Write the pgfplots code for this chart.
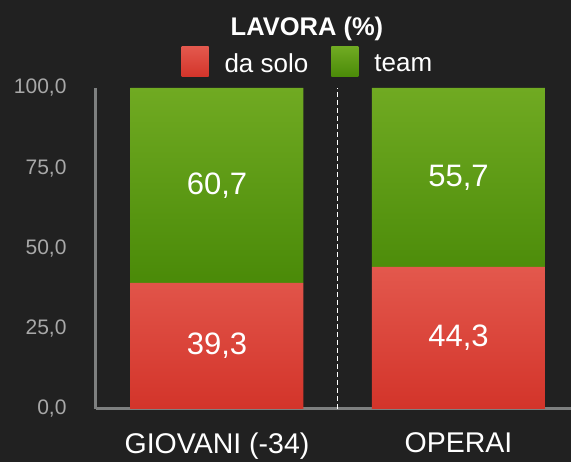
\documentclass[border=0pt]{standalone}
\usepackage{pgfplots}
\pgfplotsset{compat=1.18}
\usepackage{fontspec}
\setmainfont{Liberation Sans}
\definecolor{bg}{HTML}{212121}
\definecolor{axgray}{HTML}{7E8080}
\definecolor{ticklab}{HTML}{A8A8A8}
\definecolor{redtop}{HTML}{E3584D}
\definecolor{redbot}{HTML}{D3342A}
\definecolor{greentop}{HTML}{70AA22}
\definecolor{greenbot}{HTML}{4A8A08}
\begin{document}
\begin{tikzpicture}[x=1pt,y=1pt]
\fill[bg] (0,0) rectangle (571,462);
\begin{axis}[
  at={(96pt,53pt)}, anchor=south west,
  scale only axis, width=475pt, height=321pt,
  xmin=-0.501, xmax=1.466, ymin=0, ymax=100,
  ybar stacked, bar width=173pt,
  axis x line*=bottom, axis y line*=left,
  axis line style={draw=axgray, line width=3pt, -},
  xtick={0,1}, xticklabels={GIOVANI (-34), OPERAI},
  xticklabel style={font=\fontsize{28.5}{32}\selectfont, text=white, yshift=-20pt},
  ytick={0,25,50,75,100},
  yticklabel style={font=\fontsize{21}{24}\selectfont, text=ticklab, xshift=-26pt},
  yticklabel={\pgfmathprintnumber[fixed,fixed zerofill,precision=1,use comma]{\tick}},
  /pgf/number format/assume math mode=true,
  major tick length=0pt,
  clip=false,
  legend style={at={(0.446,1.081)}, anchor=center, draw=none, fill=none,
    text=white, font=\fontsize{26}{30}\selectfont, legend columns=2,
    /tikz/every odd column/.append style={column sep=14pt},
    /tikz/every even column/.append style={column sep=21pt}},
  legend image code/.code={\path[#1] (0pt,-13pt) rectangle (27pt,17pt);},
  nodes near coords={\pgfmathprintnumber[fixed,precision=1,use comma]{\pgfplotspointmeta}},
  nodes near coords style={text=white, font=\fontsize{31}{34}\selectfont, anchor=center},
  point meta=explicit,
]
\addplot[draw=none, top color=redtop, bottom color=redbot] coordinates {(0,39.3) [39.3] (1,44.3) [44.3]};
\addlegendentry{da solo}
\addplot[draw=none, top color=greentop, bottom color=greenbot] coordinates {(0,60.7) [60.7] (1,55.7) [55.7]};
\addlegendentry{team}
\draw[white, line width=1pt, dash pattern=on 5pt off 3pt] (axis cs:0.501,0) -- (axis cs:0.501,100);
\end{axis}
\node[text=white, font=\bfseries\fontsize{25.5}{28}\selectfont] at (307,433) {LAVORA (\%)};
\pgfresetboundingbox
\path[use as bounding box] (0,0) rectangle (571,462);
\end{tikzpicture}
\end{document}
